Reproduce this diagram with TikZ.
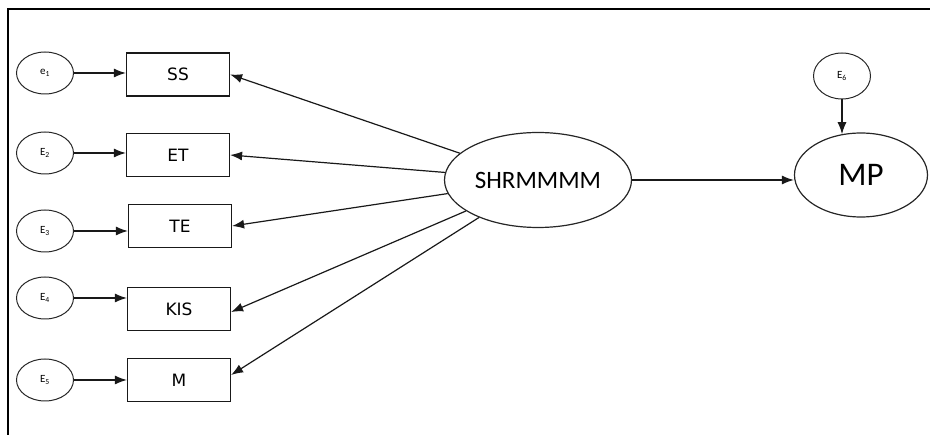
\documentclass[tikz,border=0pt]{standalone}
\usepackage{fontspec}
\setmainfont{Carlito}
\newfontfamily\boxfont{DejaVu Sans}
\usetikzlibrary{shapes.geometric,arrows.meta}
\tikzset{
  errnode/.style={ellipse,draw=black!85,line width=1pt,inner sep=0pt,minimum width=57pt,minimum height=42pt,font=\fontsize{11}{12}\selectfont},
  obsbox/.style={rectangle,draw=black!90,line width=1.2pt,inner sep=0pt,minimum width=103pt,minimum height=43pt,font=\boxfont\fontsize{17}{18}\selectfont},
  conn/.style={line width=1.2pt,draw=black!90,-{Latex[length=12pt,width=9pt]}},
}
\begin{document}
\begin{tikzpicture}[x=1pt,y=-1pt]
\useasboundingbox (0,0) rectangle (930,435);
% frame
\draw[line width=1.6pt] (8,435) -- (8,9) -- (930,9);
% error ellipses
\node[errnode] (e1) at (45,73) {e\textsubscript{1}};
\node[errnode] (e2) at (45,153) {E\textsubscript{2}};
\node[errnode] (e3) at (45,231) {E\textsubscript{3}};
\node[errnode] (e4) at (45,298) {E\textsubscript{4}};
\node[errnode] (e5) at (45,380) {E\textsubscript{5}};
\node[errnode,minimum height=46pt] (e6) at (842,76) {E\textsubscript{6}};
% observed boxes
\node[obsbox] (ss) at (178,74.5) {SS};
\node[obsbox] (et) at (178,155) {ET};
\node[obsbox] (te) at (180,226) {TE};
\node[obsbox] (kis) at (179,309) {KIS};
\node[obsbox] (m) at (179,380) {M};
% latent
\node[ellipse,draw=black!85,line width=1.2pt,inner sep=0pt,minimum width=187pt,minimum height=95pt,font=\fontsize{25}{26}\selectfont] (shr) at (538,180) {SHRMMMM};
\node[ellipse,draw=black!85,line width=1.2pt,inner sep=0pt,minimum width=133pt,minimum height=84pt,font=\fontsize{33}{34}\selectfont] (mp) at (861,175) {MP};
% connectors
\draw[conn] (e1.east) -- (e1.east -| ss.west);
\draw[conn] (e2.east) -- (e2.east -| et.west);
\draw[conn] (e3.east) -- (e3.east -| te.west);
\draw[conn] (e4.east) -- (e4.east -| kis.west);
\draw[conn] (e5.east) -- (e5.east -| m.west);
\draw[conn] (shr) -- (ss.east);
\draw[conn] (shr) -- (et.east);
\draw[conn] (shr) -- (te.east);
\draw[conn] (shr) -- ([yshift=-3pt]kis.east);
\draw[conn] (shr) -- ([yshift=5pt]m.east);
\draw[conn] (shr.east) -- (shr.east -| mp.west);
\draw[conn,shorten >=-1.8pt] (e6.south) -- (e6.south |- mp.north);
\end{tikzpicture}
\end{document}
